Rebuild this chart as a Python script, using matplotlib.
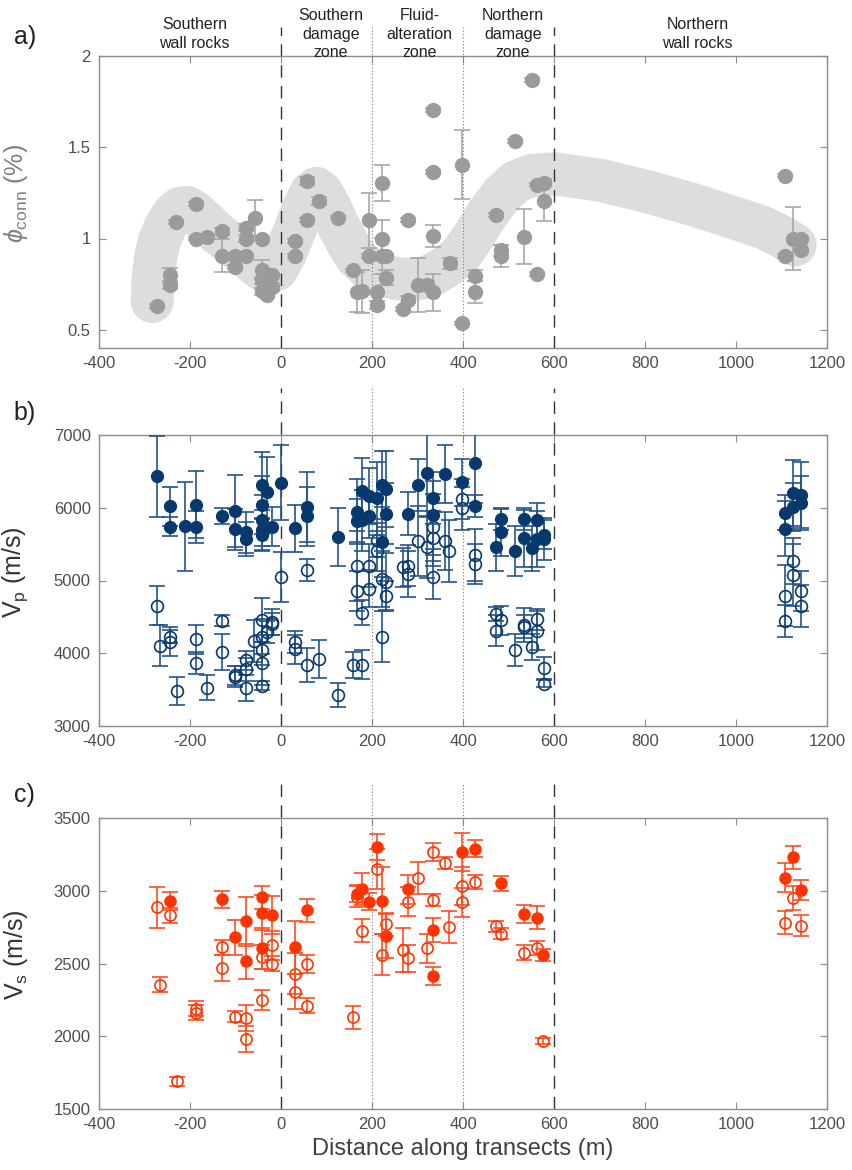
import numpy as np
import matplotlib
matplotlib.use("Agg")
import matplotlib.pyplot as plt

plt.rcParams['font.family'] = ['Liberation Sans', 'DejaVu Sans']
plt.rcParams['mathtext.fontset'] = 'custom'
plt.rcParams['mathtext.rm'] = 'Liberation Sans'
plt.rcParams['mathtext.it'] = 'Liberation Sans:italic'
plt.rcParams['mathtext.fallback'] = 'stix'
plt.rcParams['axes.unicode_minus'] = False

# zone boundaries and header labels
zone_dashed = [0, 600]
zone_dotted = [200, 400]
zone_names = ["Southern\nwall rocks", "Southern\ndamage\nzone", "Fluid-\nalteration\nzone",
              "Northern\ndamage\nzone", "Northern\nwall rocks"]
zone_centres = [-190, 110, 305, 510, 915]

x_ticks = [-400, -200, 0, 200, 400, 600, 800, 1000, 1200]
phi_ticks = [0.5, 1, 1.5, 2]
phi_ticklabels = ["0.5", "1", "1.5", "2"]
vp_ticks = [3000, 4000, 5000, 6000, 7000]
vs_ticks = [1500, 2000, 2500, 3000, 3500]

# a) connected porosity (%)
phi_x = [-273, -245, -245, -231, -187, -187, -162, -130, -130, -102, -102, -77, -77, -77,
         -58, -41, -41, -41, -41, -20, -20, -31, 30, 30, 58, 58, 84, 126, 158, 166, 177,
         193, 193, 210, 210, 223, 223, 223, 231, 231, 280, 269, 280, 300, 320, 335, 335,
         335, 335, 371, 398, 398, 426, 426, 472, 484, 484, 514, 535, 551, 562, 562, 577,
         577, 1108, 1108, 1126, 1143, 1143]
phi_y = [0.63, 0.80, 0.745, 1.09, 1.19, 1.00, 1.01, 1.04, 0.905, 0.905, 0.845, 1.06, 1.00,
         0.905, 1.11, 1.00, 0.83, 0.77, 0.71, 0.80, 0.735, 0.69, 0.985, 0.905, 1.315, 1.10,
         1.205, 1.115, 0.825, 0.705, 0.71, 1.10, 0.905, 0.705, 0.635, 1.305, 1.00, 0.905,
         0.905, 0.785, 1.10, 0.615, 0.665, 0.745, 0.745, 0.705, 1.015, 1.365, 1.705, 0.865,
         1.405, 0.535, 0.795, 0.705, 1.127, 0.935, 0.905, 1.535, 1.01, 1.87, 0.805, 1.295,
         1.305, 1.205, 1.345, 0.905, 1.00, 1.00, 0.935]
phi_err = [0.01, 0.04, 0.02, 0.01, 0.01, 0.01, 0.01, 0.02, 0.09, 0.01, 0.01, 0.02, 0.02,
           0.01, 0.10, 0.01, 0.05, 0.02, 0.02, 0.01, 0.02, 0.01, 0.01, 0.01, 0.02, 0.01,
           0.02, 0.01, 0.01, 0.11, 0.12, 0.15, 0.01, 0.01, 0.02, 0.10, 0.10, 0.10, 0.01,
           0.04, 0.01, 0.01, 0.02, 0.15, 0.02, 0.10, 0.06, 0.01, 0.01, 0.03, 0.19, 0.01,
           0.03, 0.06, 0.01, 0.03, 0.06, 0.01, 0.15, 0.01, 0.01, 0.01, 0.02, 0.11, 0.01,
           0.01, 0.17, 0.01, 0.01]

# trend band (centre line) in panel a
band_x = [-283, -281, -276, -267, -253, -238, -222, -207, -192, -170, -140, -110, -80, -52,
          -30, -10, 8, 28, 48, 66, 78, 90, 106, 124, 145, 165, 190, 220, 255, 290, 325, 360,
          395, 425, 455, 485, 515, 550, 600, 700, 800, 900, 1000, 1060, 1100, 1130]
band_y = [0.655, 0.78, 0.89, 0.99, 1.07, 1.13, 1.165, 1.17, 1.15, 1.10, 1.03, 0.97, 0.91, 0.85,
          0.81, 0.83, 0.91, 1.03, 1.16, 1.25, 1.275, 1.25, 1.18, 1.08, 0.98, 0.90, 0.84, 0.80,
          0.78, 0.775, 0.79, 0.84, 0.91, 1.02, 1.14, 1.24, 1.31, 1.345, 1.355, 1.32, 1.26,
          1.19, 1.11, 1.06, 1.01, 0.965]

# b) P-wave velocity (m/s), filled and open symbols
vp_f_x = [-273, -245, -245, -211, -187, -187, -130, -102, -102, -77, -77, -41, -41, -41, -41,
          -41, -31, -20, 0, 30, 58, 58, 126, 166, 166, 177, 177, 193, 193, 210, 223, 223, 231,
          231, 280, 300, 320, 335, 335, 360, 398, 426, 426, 472, 484, 484, 514, 535, 535, 551,
          562, 562, 577, 577, 1108, 1108, 1126, 1126, 1143, 1143]
vp_f_y = [6430, 6020, 5740, 5745, 6040, 5735, 5880, 5955, 5705, 5660, 5570, 6310, 6040, 5830,
          5695, 5630, 6220, 5740, 6345, 5715, 6005, 5880, 5600, 5945, 5823, 6235, 5830, 6160,
          5887, 6130, 6310, 5525, 6255, 5920, 5920, 6310, 6480, 6130, 5900, 6460, 6350, 6620,
          6025, 5455, 5840, 5660, 5405, 5840, 5580, 5440, 5830, 5570, 5630, 5570, 5930, 5710,
          6205, 6015, 6175, 6070]
vp_f_err = [560, 270, 130, 610, 460, 220, 110, 500, 280, 280, 230, 460, 400, 350, 280, 230,
            480, 270, 520, 320, 480, 400, 400, 450, 300, 450, 420, 380, 300, 500, 470, 480,
            520, 420, 300, 360, 600, 360, 470, 400, 320, 560, 150, 320, 150, 320, 350, 150,
            390, 310, 240, 380, 200, 290, 240, 380, 450, 330, 460, 370]

vp_o_x = [-273, -266, -245, -245, -229, -187, -187, -162, -130, -130, -102, -102, -77, -77,
          -77, -59, -41, -41, -41, -41, -41, -31, -20, -20, 0, 30, 30, 58, 58, 84, 126, 158,
          177, 166, 166, 177, 193, 193, 210, 210, 223, 223, 231, 231, 269, 280, 280, 300, 320,
          335, 335, 335, 360, 370, 398, 398, 426, 426, 472, 472, 484, 514, 535, 535, 551, 562,
          562, 577, 577, 1108, 1108, 1126, 1126, 1143, 1143]
vp_o_y = [4655, 4105, 4230, 4160, 3485, 4190, 3870, 3525, 4450, 4015, 3700, 3680, 3905, 3780,
          3520, 4170, 4455, 4230, 4045, 3860, 3555, 4295, 4435, 4400, 5045, 4150, 4055, 5145,
          3840, 3920, 3425, 3840, 3840, 5205, 4855, 4560, 5205, 4890, 5555, 5405, 5020, 4230,
          4975, 4790, 5180, 5205, 5090, 5545, 5455, 5045, 5580, 5730, 5540, 5405, 6120, 5990,
          5350, 5225, 4540, 4310, 4455, 4045, 4390, 4365, 4090, 4465, 4310, 3795, 3580, 4790,
          4445, 5270, 5075, 4855, 4655]
vp_o_err = [270, 280, 90, 200, 190, 200, 150, 170, 70, 250, 130, 150, 130, 160, 180, 290, 300,
            240, 200, 300, 60, 150, 180, 150, 340, 150, 200, 150, 230, 260, 160, 180, 200, 480,
            280, 170, 300, 250, 230, 280, 380, 350, 400, 200, 270, 280, 320, 480, 420, 300, 380,
            460, 400, 430, 280, 300, 360, 270, 100, 210, 200, 220, 230, 160, 180, 150, 270, 150,
            50, 420, 220, 320, 420, 280, 290]

# c) S-wave velocity (m/s), filled and open symbols
vs_f_x = [-245, -130, -102, -77, -77, -41, -41, -41, -20, 30, 58, 166, 177, 193, 210, 223,
          231, 280, 335, 335, 398, 426, 484, 535, 562, 575, 1108, 1126, 1143]
vs_f_y = [2930, 2940, 2680, 2790, 2515, 2955, 2850, 2605, 2835, 2610, 2865, 2980, 3015, 2925,
          3300, 2930, 2690, 3010, 2730, 2415, 3265, 3290, 3050, 2840, 2815, 2560, 3090, 3230,
          3005]
vs_f_err = [60, 60, 120, 170, 120, 80, 120, 140, 130, 180, 80, 60, 110, 60, 90, 230, 150, 100,
            80, 60, 130, 60, 50, 60, 80, 40, 100, 80, 70]

vs_o_x = [-273, -266, -245, -229, -187, -187, -130, -130, -102, -77, -77, -41, -41, -20, -20,
          30, 30, 58, 58, 158, 166, 177, 210, 223, 231, 269, 280, 280, 300, 320, 335, 335, 360,
          370, 398, 398, 426, 472, 484, 535, 562, 575, 1108, 1126, 1143]
vs_o_y = [2885, 2355, 2830, 1690, 2190, 2162, 2610, 2470, 2135, 2128, 1980, 2545, 2250, 2625,
          2500, 2430, 2305, 2497, 2210, 2130, 2960, 2725, 3150, 2560, 2770, 2595, 2925, 2535,
          3085, 2605, 3265, 2935, 3190, 2750, 3035, 2920, 3060, 2755, 2705, 2575, 2605, 1965,
          2780, 2950, 2760]
vs_o_err = [140, 50, 50, 30, 50, 50, 50, 90, 40, 90, 90, 80, 70, 100, 50, 140, 120, 60, 50, 80,
            70, 80, 140, 140, 80, 150, 100, 90, 110, 100, 60, 40, 40, 110, 130, 100, 50, 40, 40,
            50, 50, 20, 80, 80, 70]

spine_col = '#8c8c8c'
tick_col = '#4d4d4d'

fig = plt.figure(figsize=(8.52, 11.7), dpi=100)
L, W = 99 / 852, 728 / 852
ax_a = fig.add_axes([L, (1170 - 348) / 1170, W, 292 / 1170])
ax_b = fig.add_axes([L, (1170 - 726) / 1170, W, 291 / 1170])
ax_c = fig.add_axes([L, (1170 - 1109) / 1170, W, 291 / 1170])

# panel a
ax_a.plot(band_x, band_y, color='#dddddd', lw=31, solid_capstyle='round',
          solid_joinstyle='round', zorder=1)
ax_a.errorbar(phi_x, phi_y, yerr=phi_err, fmt='o', ms=10, color='#9b9b9b', ecolor='#a8a8a8',
              elinewidth=1.2, capsize=5.5, capthick=1.2, zorder=3)
ax_a.set_ylim(0.4, 2.0)
ax_a.set_yticks(phi_ticks)
ax_a.set_yticklabels(phi_ticklabels)
ax_a.set_ylabel(r'$\phi_{\rm conn}$ (%)', fontsize=18, color='#808080')

# panel b
vp_col = '#07386e'
ax_b.errorbar(vp_o_x, vp_o_y, yerr=vp_o_err, fmt='o', ms=8.5, mfc='none', mec=vp_col,
              mew=1.2, ecolor='#24548a', elinewidth=1.2, capsize=6, capthick=1.2, zorder=3)
ax_b.errorbar(vp_f_x, vp_f_y, yerr=vp_f_err, fmt='o', ms=8.5, color=vp_col, mec=vp_col,
              ecolor='#24548a', elinewidth=1.2, capsize=6, capthick=1.2, zorder=4)
ax_b.set_ylim(3000, 7000)
ax_b.set_yticks(vp_ticks)
ax_b.set_ylabel(r'V$_{\rm p}$ (m/s)', fontsize=18, color='#333333')

# panel c
vs_col = '#ff3300'
ax_c.errorbar(vs_o_x, vs_o_y, yerr=vs_o_err, fmt='o', ms=8, mfc='none', mec=vs_col,
              mew=1.2, ecolor='#ff4d1f', elinewidth=1.2, capsize=6, capthick=1.2, zorder=3)
ax_c.errorbar(vs_f_x, vs_f_y, yerr=vs_f_err, fmt='o', ms=8, color=vs_col, mec=vs_col,
              ecolor='#ff4d1f', elinewidth=1.2, capsize=6, capthick=1.2, zorder=4)
ax_c.set_ylim(1500, 3500)
ax_c.set_yticks(vs_ticks)
ax_c.set_ylabel(r'V$_{\rm s}$ (m/s)', fontsize=18, color='#333333')
ax_c.set_xlabel('Distance along transects (m)', fontsize=17, color='#404040', labelpad=4)

for ax, top in [(ax_a, 1.1), (ax_b, 1.16), (ax_c, 1.12)]:
    ax.set_xlim(-400, 1200)
    ax.set_xticks(x_ticks)
    ax.tick_params(direction='in', length=5, width=0.8, color=spine_col, labelcolor=tick_col,
                   labelsize=12, top=True, right=True, pad=6)
    for s in ax.spines.values():
        s.set_color(spine_col)
        s.set_linewidth(1.0)
    for xv in zone_dashed:
        ax.axvline(xv, 0, top, color='#333333', lw=1, ls=(0, (9, 6)), clip_on=False, zorder=2)
    for xv in zone_dotted:
        ax.axvline(xv, 0, top, color='#777777', lw=0.8, ls=(0, (1, 2)), clip_on=False, zorder=2)
    ax.yaxis.set_label_coords(-0.095, 0.53)

for name, xc in zip(zone_names, zone_centres):
    ax_a.text(xc, 1.075, name, transform=ax_a.get_xaxis_transform(), ha='center', va='center',
              fontsize=11.5, color='#222222', linespacing=1.3, multialignment='center')

for lab, yy in [('a)', 1 - 37 / 1170), ('b)', 1 - 413 / 1170), ('c)', 1 - 795 / 1170)]:
    fig.text(0.016, yy, lab, fontsize=18, va='center', ha='left', color='#222222')

fig.savefig('out.png', dpi=100)
